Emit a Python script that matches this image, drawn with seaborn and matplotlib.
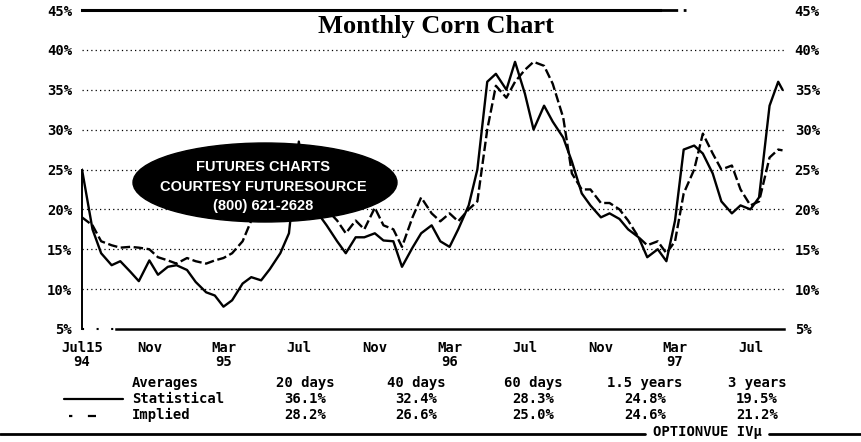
import matplotlib
matplotlib.use("Agg")
import matplotlib.pyplot as plt
import matplotlib.dates as mdates
from matplotlib.patches import Ellipse
from matplotlib.lines import Line2D
import seaborn as sns
import pandas as pd

# ---------------- data ----------------
dates = [
    "1994-07-15", "1994-08-01", "1994-08-15", "1994-09-01", "1994-09-15", "1994-10-01", "1994-10-15",
    "1994-11-01", "1994-11-15", "1994-12-01", "1994-12-15",
    "1995-01-01", "1995-01-15", "1995-02-01", "1995-02-15", "1995-03-01", "1995-03-15", "1995-04-01",
    "1995-04-15", "1995-05-01", "1995-05-15", "1995-06-01", "1995-06-15", "1995-07-01", "1995-07-15",
    "1995-08-01", "1995-08-15", "1995-09-01", "1995-09-15", "1995-10-01", "1995-10-15", "1995-11-01",
    "1995-11-15", "1995-12-01", "1995-12-15",
    "1996-01-01", "1996-01-15", "1996-02-01", "1996-02-15", "1996-03-01", "1996-03-15", "1996-04-01",
    "1996-04-15", "1996-05-01", "1996-05-15", "1996-06-01", "1996-06-15", "1996-07-01", "1996-07-15",
    "1996-08-01", "1996-08-15", "1996-09-01", "1996-09-15", "1996-10-01", "1996-10-15", "1996-11-01",
    "1996-11-15", "1996-12-01", "1996-12-15",
    "1997-01-01", "1997-01-15", "1997-02-01", "1997-02-15", "1997-03-01", "1997-03-15", "1997-04-01",
    "1997-04-15", "1997-05-01", "1997-05-15", "1997-06-01", "1997-06-15", "1997-07-01", "1997-07-15",
    "1997-08-01", "1997-08-15", "1997-08-22",
]
statistical = [
    25.0, 17.5, 14.5, 13.0, 13.5, 12.2, 11.0, 13.6, 11.8, 12.8, 13.0,
    12.4, 10.9, 9.6, 9.2, 7.8, 8.6, 10.7, 11.5, 11.1, 12.5, 14.5, 17.0, 28.5, 21.0,
    19.5, 18.0, 16.0, 14.5, 16.5, 16.5, 17.0, 16.1, 16.0, 12.8,
    15.2, 17.0, 18.0, 16.0, 15.3, 17.5, 20.5, 25.0, 36.0, 37.0, 35.0, 38.5, 34.5, 30.0,
    33.0, 31.0, 29.0, 26.0, 22.0, 20.5, 19.0, 19.5, 18.8, 17.5,
    16.5, 14.0, 15.0, 13.5, 18.6, 27.5, 28.0, 27.0, 24.5, 21.0, 19.5, 20.5, 20.0, 21.5,
    33.0, 36.0, 35.0,
]
implied = [
    19.0, 18.0, 16.0, 15.5, 15.2, 15.3, 15.2, 15.0, 14.0, 13.6, 13.2,
    13.9, 13.5, 13.2, 13.6, 13.9, 14.5, 16.0, 18.6, 20.5, 22.0, 23.0, 24.0, 25.0, 23.0,
    21.0, 20.0, 18.6, 17.0, 18.6, 17.5, 20.2, 18.0, 17.5, 15.3,
    19.0, 21.5, 19.5, 18.5, 19.5, 18.5, 20.0, 21.0, 30.0, 35.5, 34.0, 36.0, 37.5, 38.5,
    38.0, 35.75, 31.5, 24.5, 22.5, 22.5, 20.8, 20.8, 20.0, 18.6,
    16.5, 15.5, 16.0, 14.5, 16.0, 22.0, 25.0, 29.5, 27.0, 25.0, 25.5, 22.5, 20.5, 21.0,
    26.5, 27.5, 27.4,
]

y_ticks = [5, 10, 15, 20, 25, 30, 35, 40, 45]
y_labels = ["5%", "10%", "15%", "20%", "25%", "30%", "35%", "40%", "45%"]
grid_levels = [10, 15, 20, 25, 30, 35, 40]
x_tick_dates = ["1994-07-15", "1994-11-01", "1995-03-01", "1995-07-01", "1995-11-01",
                "1996-03-01", "1996-07-01", "1996-11-01", "1997-03-01", "1997-07-01"]
x_tick_labels = ["Jul15\n94", "Nov", "Mar\n95", "Jul", "Nov", "Mar\n96", "Jul", "Nov", "Mar\n97", "Jul"]
major_marks = ["1994-07-15", "1995-03-01", "1996-03-01"]

title = "Monthly Corn Chart"
badge_lines = ["FUTURES CHARTS", "COURTESY FUTURESOURCE", "(800) 621-2628"]
table_header = ["Averages", "20 days", "40 days", "60 days", "1.5 years", "3 years"]
stat_avgs = ["36.1%", "32.4%", "28.3%", "24.8%", "19.5%"]
impl_avgs = ["28.2%", "26.6%", "25.0%", "24.6%", "21.2%"]
footer = "OPTIONVUE IV\u00b5"

# ---------------- build ----------------
sns.set_style("white")
plt.rcParams["font.family"] = ["DejaVu Sans Mono", "DejaVu Sans"]
plt.rcParams["text.color"] = "black"
plt.rcParams["xtick.color"] = "black"
plt.rcParams["ytick.color"] = "black"
plt.rcParams["axes.labelcolor"] = "black"

W, H = 861, 442
fig = plt.figure(figsize=(W / 100, H / 100), dpi=100)
fig.patch.set_facecolor("white")

def fx(px):
    return px / W

def fy(py):
    return 1 - py / H

ax = fig.add_axes([fx(82), fy(329), fx(785) - fx(82), fy(10) - fy(329)])
ax.set_facecolor("white")

d = pd.to_datetime(dates)
df = pd.DataFrame({
    "date": list(d) * 2,
    "vol": statistical + implied,
    "series": ["Statistical"] * len(d) + ["Implied"] * len(d),
})

for lv in grid_levels:
    ax.axhline(lv, color="black", lw=0.9, ls=(0, (1, 2.5)), zorder=1)

sns.lineplot(data=df, x="date", y="vol", style="series", ax=ax,
             dashes={"Statistical": "", "Implied": (4, 1.5)},
             color="black", lw=1.7, legend=False, zorder=3)

ax.set_xlim(pd.Timestamp("1994-07-15"), pd.Timestamp("1997-08-26"))
ax.set_ylim(5, 45)
ax.set_xlabel("")
ax.set_ylabel("")

mono = dict(family="DejaVu Sans Mono", weight="bold", size=10, color="black")
ax.set_yticks(y_ticks)
ax.set_yticklabels(y_labels, **mono)
ax.tick_params(axis="y", length=0, left=False, right=False, labelleft=True,
               labelright=True, pad=7, labelcolor="black")
for lab in ax.get_yticklabels(which="major"):
    lab.set_fontproperties(matplotlib.font_manager.FontProperties(
        family="DejaVu Sans Mono", weight="bold", size=10))

ax.set_xticks(pd.to_datetime(x_tick_dates))
ax.set_xticklabels(x_tick_labels, **mono, linespacing=0.95)
ax.tick_params(axis="x", length=0, pad=9, labelcolor="black")
ax.set_xticks(pd.to_datetime(major_marks), minor=True)
ax.tick_params(axis="x", which="minor", length=9, width=1.2, direction="inout", color="black")

for s in ["left", "bottom", "top"]:
    ax.spines[s].set_color("black")
ax.spines["right"].set_visible(False)
ax.spines["left"].set_linewidth(1.4)
ax.spines["left"].set_bounds(5, 25)
ax.spines["bottom"].set_linewidth(1.8)
ax.spines["bottom"].set_bounds(mdates.date2num(pd.Timestamp("1994-09-08")),
                               mdates.date2num(pd.Timestamp("1997-08-24")))
ax.spines["top"].set_linewidth(2.2)
ax.spines["top"].set_bounds(mdates.date2num(pd.Timestamp("1994-07-15")),
                            mdates.date2num(pd.Timestamp("1997-02-05")))
ax.plot(pd.to_datetime(["1994-07-15", "1994-09-08"]), [5, 5], color="black", lw=1.5,
        ls=(0, (1, 6)), clip_on=False)
ax.plot(pd.to_datetime(["1997-02-06", "1997-03-24"]), [45, 45], color="black", lw=2,
        ls=(0, (6, 2, 1, 2)), clip_on=False)

fig.text(fx(436), fy(27), title, ha="center", va="center", color="black",
         family="Liberation Serif", weight="bold", size=19)

ell = Ellipse((fx(265), fy(182.5)), fx(264), 79 / H, transform=fig.transFigure,
              facecolor="black", edgecolor="black", zorder=10)
fig.patches.append(ell)
for txt, py in zip(badge_lines, [167, 187, 206]):
    fig.text(fx(263), fy(py), txt, ha="center", va="center", color="white",
             family="Liberation Sans", weight="bold", size=10.5, zorder=11)

col_centers = [None, 305, 416, 533, 645, 757]
row_y = [383, 399, 415]
fig.text(fx(132), fy(row_y[0]), table_header[0], ha="left", va="center", **mono)
for c, txt in zip(col_centers[1:], table_header[1:]):
    fig.text(fx(c), fy(row_y[0]), txt, ha="center", va="center", **mono)
fig.text(fx(132), fy(row_y[1]), "Statistical", ha="left", va="center", **mono)
fig.text(fx(132), fy(row_y[2]), "Implied", ha="left", va="center", **mono)
for c, txt in zip(col_centers[1:], stat_avgs):
    fig.text(fx(c), fy(row_y[1]), txt, ha="center", va="center", **mono)
for c, txt in zip(col_centers[1:], impl_avgs):
    fig.text(fx(c), fy(row_y[2]), txt, ha="center", va="center", **mono)

fig.lines.append(Line2D([fx(64), fx(123)], [fy(399), fy(399)], transform=fig.transFigure,
                        color="black", lw=1.6))
fig.lines.append(Line2D([fx(69), fx(96)], [fy(416), fy(416)], transform=fig.transFigure,
                        color="black", lw=1.6, ls=(0, (1.5, 7, 8, 20))))

fig.lines.append(Line2D([0, fx(645)], [fy(434), fy(434)], transform=fig.transFigure,
                        color="black", lw=2))
fig.lines.append(Line2D([fx(769), 1], [fy(434), fy(434)], transform=fig.transFigure,
                        color="black", lw=2))
fig.text(fx(707), fy(432), footer, ha="center", va="center", **mono)

fig.savefig("out.png", dpi=100, facecolor="white")
